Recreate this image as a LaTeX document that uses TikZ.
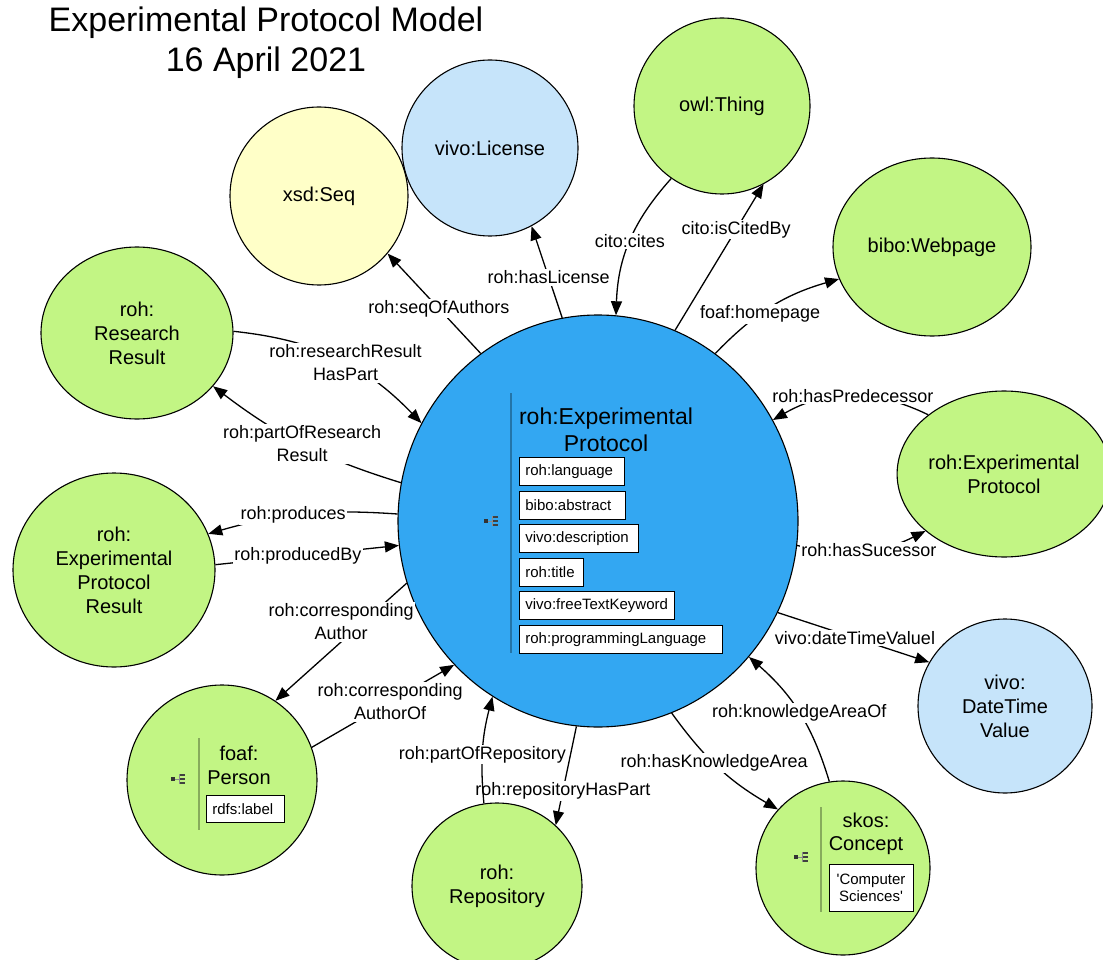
\documentclass[tikz,border=0pt]{standalone}
\usepackage{fontspec}
\setmainfont{Liberation Sans}
\usetikzlibrary{arrows.meta,shapes.geometric}

\definecolor{lime}{RGB}{194,245,132}
\definecolor{sky}{RGB}{198,228,250}
\definecolor{cream}{RGB}{255,255,200}
\definecolor{azure}{RGB}{51,167,242}

\tikzset{treeicon/.pic={
    \fill[black!80] (-7,-2) rectangle (-3,2);
    \draw[black!45,line width=.6pt] (-3,0) -- (1,0) (1,-5) -- (1,5);
    \foreach \d in {-4,0,4}
        \fill[black!75] (2,\d-1) rectangle (7,\d+1);
}}

\begin{document}
\begin{tikzpicture}[x=1pt,y=-1pt,
    cls/.style={ellipse,draw,line width=1.1pt,inner sep=0pt,align=center,font=\fontsize{20}{24}\selectfont},
    rel/.style={line width=1.3pt,-{Triangle[length=14pt,width=11pt]}},
    lbl/.style={fill=white,inner sep=1.5pt,align=center,font=\fontsize{18}{23}\selectfont},
    prop/.style={draw,fill=white,line width=.8pt,anchor=north west,minimum height=28pt,inner ysep=0pt,inner xsep=6pt,align=left,font=\fontsize{15}{18}\selectfont},
    sep/.style={line width=1.6pt,black,opacity=.3}]
    \useasboundingbox (0,0) rectangle (1103,960);

    \node[align=center,font=\fontsize{34}{40}\selectfont] (ttl) at (266,43) {Experimental Protocol Model\\16 April 2021};

    \node[cls,fill=azure,minimum width=400pt,minimum height=412pt] (ep) at (598,521) {};
    \node[cls,fill=cream,minimum width=178pt,minimum height=178pt] (seq) at (319,196) {xsd:Seq};
    \node[cls,fill=sky,minimum width=176pt,minimum height=176pt] (lic) at (490,148) {vivo:License};
    \node[cls,fill=lime,minimum width=176pt,minimum height=176pt] (owl) at (722,106) {owl:Thing};
    \node[cls,fill=lime,minimum width=198pt,minimum height=178pt] (web) at (932,247) {bibo:Webpage};
    \node[cls,fill=lime,minimum width=192pt,minimum height=172pt] (rr) at (137,333) {roh:\\Research\\Result};
    \node[cls,fill=lime,minimum width=202pt,minimum height=194pt] (epr) at (114,570) {roh:\\Experimental\\Protocol\\Result};
    \node[cls,fill=lime,minimum width=190pt,minimum height=190pt] (per) at (222,780) {};
    \node[cls,fill=lime,minimum width=170pt,minimum height=166pt] (repo) at (497,886) {roh:\\Repository};
    \node[cls,fill=lime,minimum width=174pt,minimum height=174pt] (skos) at (843,868) {};
    \node[cls,fill=sky,minimum width=174pt,minimum height=174pt] (dtv) at (1005,706) {vivo:\\DateTime\\Value};
    \node[cls,fill=lime,minimum width=194pt,minimum height=166pt] (prot) at (1004,474) {roh:Experimental\\Protocol};

    \draw[sep] (511,393) -- (511,653);
    \pic at (491,521) {treeicon};
    \node[align=center,font=\fontsize{23}{27}\selectfont] (eptitle) at (606,430) {roh:Experimental\\Protocol};
    \foreach \t/\w [count=\i] in {roh:language/93,bibo:abstract/94,vivo:description/107,roh:title/52,vivo:freeTextKeyword/143,roh:programmingLanguage/191}
        \node[prop,text width=\w pt] (p\i) at (519,{457+33.6*(\i-1)}) {\mbox{\t}};

    \draw[sep] (199,738) -- (199,830);
    \pic at (178,779) {treeicon};
    \node[align=center,font=\fontsize{20}{24}\selectfont] (pertitle) at (239,765) {foaf:\\Person};
    \node[prop,text width=66pt,minimum height=27pt] (plabel) at (206,795) {\mbox{rdfs:label}};

    \draw[sep] (821,807) -- (821,912);
    \pic at (801,857) {treeicon};
    \node[align=center,font=\fontsize{20}{23}\selectfont] (skostitle) at (866,834) {skos:\\Concept};
    \node[draw,fill=white,line width=.8pt,align=center,minimum width=84pt,minimum height=47pt,inner sep=0pt,font=\fontsize{15}{17}\selectfont] (cval) at (871,887.5) {\textquotesingle Computer\\Sciences\textquotesingle};

    \draw[rel] (ep.125) -- node[lbl,pos=.45] {roh:seqOfAuthors} (seq.-40);
    \draw[rel] (ep.100) -- node[lbl,pos=.44] {roh:hasLicense} (lic.-62);
    \draw[rel] (owl.-125) to[bend right=20] node[lbl] {cito:cites} (ep.85);
    \draw[rel] (ep.68) -- node[lbl,pos=.69] {cito:isCitedBy} (owl.-62);
    \draw[rel] (ep.55) to[bend left=15] node[lbl,pos=.4] {foaf:homepage} (web.-161);
    \draw[rel] (prot.142) to[bend right=28] node[lbl,pos=.48] {roh:hasPredecessor} (ep.30);
    \draw[rel] (ep.-7) to[bend right=20] node[lbl,pos=.55] {roh:hasSucessor} (prot.216);
    \draw[rel] (ep.-27) -- node[lbl,pos=.51] {vivo:dateTimeValuel} (dtv.150);
    \draw[rel] (skos.99) to[bend right=16] node[lbl] {roh:knowledgeAreaOf} (ep.-42);
    \draw[rel] (ep.-69) to[bend right=12] node[lbl,pos=.45] {roh:hasKnowledgeArea} (skos.138);
    \draw[rel] (ep.-96) -- node[lbl,pos=.65] {roh:repositoryHasPart} (repo.46);
    \draw[rel] (repo.99) to[bend left=10] node[lbl,pos=.45] {roh:partOfRepository} (ep.-121);
    \draw[rel] (per.20) -- node[lbl,pos=.55] {roh:corresponding\\AuthorOf} (ep.-135);
    \draw[rel] (ep.198) -- node[lbl,pos=.5,yshift=20pt] {roh:corresponding\\Author} (per.56);
    \draw[rel] (epr.3) -- node[lbl,pos=.45] {roh:producedBy} (ep.187);
    \draw[rel] (ep.178) to[bend right=10] node[lbl,pos=.55] {roh:produces} (epr.21);
    \draw[rel] (ep.169) to[bend left=10] node[lbl] {roh:partOfResearch\\Result} (rr.-35);
    \draw[rel] (rr.1) to[bend left=20] node[lbl,pos=.55] {roh:researchResult\\HasPart} (ep.151);
\end{tikzpicture}
\end{document}
